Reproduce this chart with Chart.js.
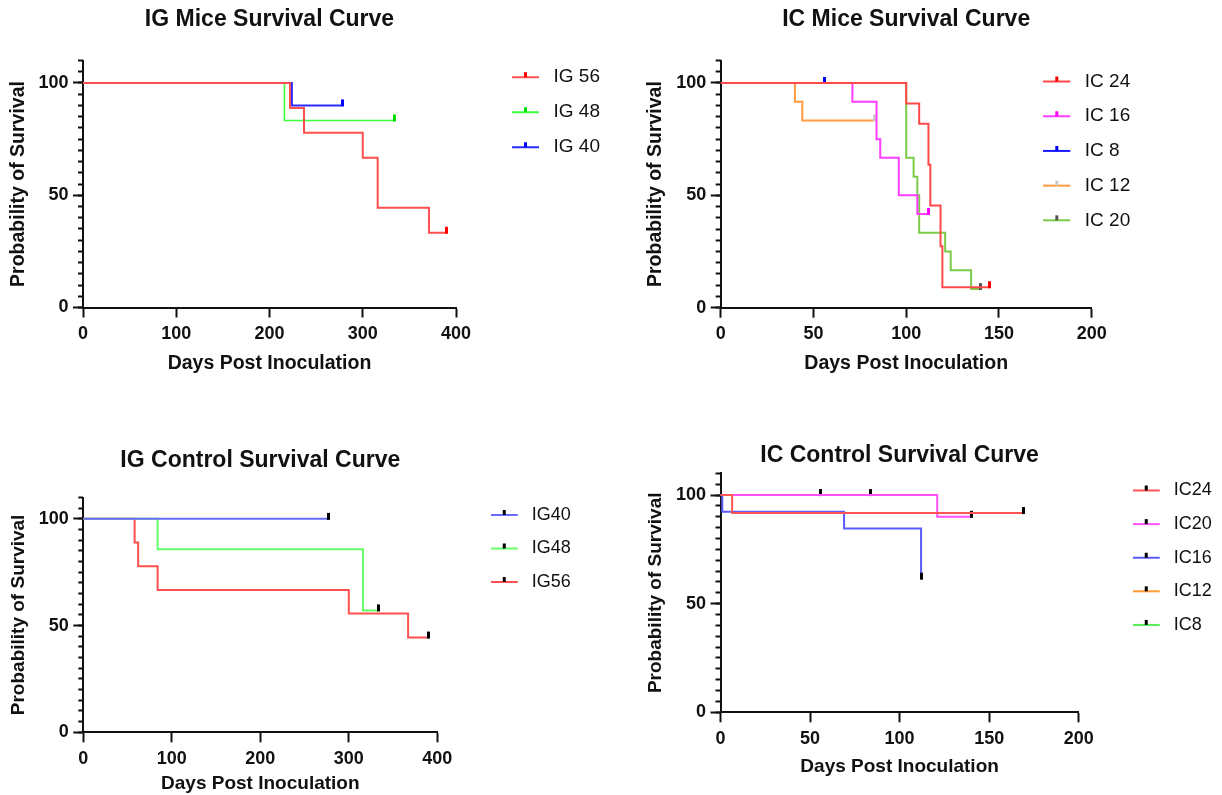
<!DOCTYPE html>
<html><head><meta charset="utf-8">
<script src="https://cdn.jsdelivr.net/npm/chart.js@4.4.1/dist/chart.umd.min.js"></script>
<style>
html,body{margin:0;padding:0;background:#fff;}
body{width:1222px;height:795px;position:relative;overflow:hidden;}
canvas{position:absolute;}
</style></head><body>
<canvas id="c1"></canvas><canvas id="c2"></canvas><canvas id="c3"></canvas><canvas id="c4"></canvas>
<script>
// ================= DATA =================
const yMajorTicks = [0, 50, 100];
const igXTicks = [0, 100, 200, 300, 400];
const icXTicks = [0, 50, 100, 150, 200];
const xAxisTitle = 'Days Post Inoculation';
const yAxisTitle = 'Probability of Survival';

// Panel 1: IG Mice
const igMiceTitle = 'IG Mice Survival Curve';
const igMiceLabels = ['IG 56', 'IG 48', 'IG 40'];
const igMice56Days = [0, 222, 237, 300, 316, 371, 390];
const igMice56Surv = [100, 88.9, 77.8, 66.7, 44.4, 33.3, 33.3];
const igMice48Days = [0, 216, 334];
const igMice48Surv = [100, 83.3, 83.3];
const igMice40Days = [0, 224, 278];
const igMice40Surv = [100, 90, 90];

// Panel 2: IC Mice
const icMiceTitle = 'IC Mice Survival Curve';
const icMiceLabels = ['IC 24', 'IC 16', 'IC 8', 'IC 12', 'IC 20'];
const icMice24Days = [0, 100, 107, 112, 113, 118.5, 119.5, 145];
const icMice24Surv = [100, 90.9, 81.8, 63.6, 45.5, 27.3, 9.1, 9.1];
const icMice16Days = [0, 71, 84, 86, 96, 106, 112];
const icMice16Surv = [100, 91.7, 75, 66.7, 50, 41.7, 41.7];
const icMice8Days = [0, 56];
const icMice8Surv = [100, 100];
const icMice12Days = [0, 40, 44, 83];
const icMice12Surv = [100, 91.7, 83.3, 83.3];
const icMice20Days = [0, 100, 104, 106, 107, 121, 124, 135, 140];
const icMice20Surv = [100, 66.7, 58.3, 50, 33.3, 25, 16.7, 8.3, 8.3];

// Panel 3: IG Control
const igCtrlTitle = 'IG Control Survival Curve';
const igCtrlLabels = ['IG40', 'IG48', 'IG56'];
const igCtrl40Days = [0, 277];
const igCtrl40Surv = [100, 100];
const igCtrl48Days = [0, 84, 316, 334];
const igCtrl48Surv = [100, 85.7, 57.1, 57.1];
const igCtrl56Days = [0, 58, 62, 84, 300, 367, 390];
const igCtrl56Surv = [100, 88.9, 77.8, 66.7, 55.6, 44.4, 44.4];

// Panel 4: IC Control
const icCtrlTitle = 'IC Control Survival Curve';
const icCtrlLabels = ['IC24', 'IC20', 'IC16', 'IC12', 'IC8'];
const icCtrl24Days = [0, 6.5, 169];
const icCtrl24Surv = [100, 91.7, 91.7];
const icCtrl20Days = [0, 121, 140];
const icCtrl20Surv = [100, 90, 90];
const icCtrl16Days = [0, 1, 69, 112];
const icCtrl16Surv = [100, 92.3, 84.6, 61.5];
const icCtrl12Days = [0, 84];
const icCtrl12Surv = [100, 100];
const icCtrl8Days = [0, 56];
const icCtrl8Surv = [100, 100];

// ================= RENDERING =================
const FONT = '"Liberation Sans", Arial, Helvetica, sans-serif';
const TXT = '#111';
Chart.defaults.font.family = FONT;

function makeIcon(color, tickColor) {
  const c = document.createElement('canvas');
  c.width = 32; c.height = 16;
  const g = c.getContext('2d');
  g.fillStyle = color; g.fillRect(0, 7, 27, 2);
  g.fillStyle = tickColor; g.fillRect(12, 3, 3, 5);
  return c;
}
function makeCensor(color) {
  const c = document.createElement('canvas');
  c.width = 3; c.height = 14;
  const g = c.getContext('2d');
  g.fillStyle = color; g.fillRect(0, 1, 3, 7);
  return c;
}

const placer = {
  id: 'placer',
  afterLayout(chart, args, opts) {
    const lg = chart.legend;
    if (lg) {
      const h = lg.height;
      lg.left = opts.lx; lg.top = opts.ly; lg.width = 200;
      lg.right = lg.left + 200; lg.bottom = lg.top + h;
    }
    const t = chart.titleBlock;
    if (t) { t.left = chart.chartArea.left; t.right = chart.chartArea.right; t.width = t.right - t.left; }
  }
};

function panel(id, P) {
  const box = P.box;
  const canvas = document.getElementById(id);
  canvas.width = box.w; canvas.height = box.h;
  canvas.style.left = box.x + 'px'; canvas.style.top = box.y + 'px';
  canvas.style.width = box.w + 'px'; canvas.style.height = box.h + 'px';

  const titleSize = 23, titleLH = titleSize * 1.2;
  const padT = P.titleY - titleLH / 2;
  const titlePB = P.plot.t - padT - titleLH;
  const LW = 40;
  const padR = box.w - P.plot.r - LW;
  const YW = P.plot.l;
  const XH = P.xh;
  const padB = box.h - P.plot.b - XH;
  const axLH = P.axFont * 1.2;
  const xTitlePB = Math.max(0, (P.plot.b + XH) - P.xTitleY - axLH / 2);
  const yTitlePT = P.yTitleX - axLH / 2;
  const lpad = P.legend.spacing - P.legend.font;

  const datasets = P.series.map(s => ({
    label: s.label,
    data: s.days.map((d, i) => ({x: d, y: s.surv[i]})),
    borderColor: s.color, backgroundColor: s.color, borderWidth: s.width || 2,
    stepped: true, fill: false, tension: 0,
    pointStyle: makeCensor(s.tick),
    pointRadius: ctx => (ctx.dataIndex === s.days.length - 1 ? 4 : 0),
    pointHoverRadius: 0, pointHitRadius: 0,
    legendIcon: makeIcon(s.color, s.tick),
    xAxisID: 'x', yAxisID: 'y'
  }));

  return new Chart(canvas, {
    type: 'line',
    data: {datasets},
    plugins: [placer],
    options: {
      responsive: false, animation: false, devicePixelRatio: 1,
      events: [],
      layout: {padding: {left: 0, top: padT, right: padR, bottom: padB}},
      plugins: {
        title: {display: true, text: P.title, color: TXT,
          font: {family: FONT, size: titleSize, weight: 'bold', lineHeight: 1.2},
          padding: {top: 0, bottom: titlePB}},
        legend: {display: true, position: 'right', align: 'start', maxWidth: LW,
          labels: {usePointStyle: true, pointStyleWidth: 32, padding: lpad, color: TXT,
            font: {family: FONT, size: P.legend.font},
            generateLabels: chart => chart.data.datasets.map((ds, i) => ({
              text: ds.label, pointStyle: ds.legendIcon, fillStyle: 'rgba(0,0,0,0)',
              strokeStyle: 'rgba(0,0,0,0)', lineWidth: 0, hidden: false, datasetIndex: i, fontColor: TXT
            }))}},
        tooltip: {enabled: false},
        placer: {lx: P.legend.x - lpad, ly: P.legend.y - P.legend.font / 2 - lpad}
      },
      scales: {
        x: {type: 'linear', position: 'bottom', min: 0, max: P.xTicks[P.xTicks.length - 1],
          afterBuildTicks: sc => { sc.ticks = P.xTicks.map(v => ({value: v})); },
          afterFit: sc => { sc.height = XH; },
          ticks: {color: TXT, font: {family: FONT, size: 18, weight: 'bold'}, padding: 6, maxRotation: 0, autoSkip: false},
          grid: {drawOnChartArea: false, drawTicks: true, tickLength: 10, tickWidth: 2, tickColor: TXT},
          border: {display: true, color: TXT, width: 2},
          title: {display: true, text: xAxisTitle, color: TXT,
            font: {family: FONT, size: P.axFont, weight: 'bold', lineHeight: 1.2},
            padding: {top: 0, bottom: xTitlePB}}},
        y: {type: 'linear', position: 'left', weight: 1, min: 0, max: 110,
          afterBuildTicks: sc => { sc.ticks = yMajorTicks.map(v => ({value: v})); },
          afterFit: sc => { sc.width = YW; },
          ticks: {color: TXT, font: {family: FONT, size: 18, weight: 'bold'}, padding: 4.5, autoSkip: false},
          grid: {drawOnChartArea: false, drawTicks: true, tickLength: 10, tickWidth: 2, tickColor: TXT},
          border: {display: true, color: TXT, width: 2},
          title: {display: true, text: yAxisTitle, color: TXT,
            font: {family: FONT, size: P.axFont, weight: 'bold', lineHeight: 1.2},
            padding: {top: yTitlePT, bottom: 0}}},
        yMinor: {type: 'linear', position: 'left', weight: 0, min: 0, max: 110,
          afterFit: sc => { sc.width = 0; },
          ticks: {display: false, stepSize: 5},
          grid: {drawOnChartArea: false, drawTicks: true, tickLength: 5, tickWidth: 2, tickColor: TXT},
          border: {display: false}}
      }
    }
  });
}

panel('c1', {
  box: {x: 0, y: 0, w: 611, h: 395},
  plot: {l: 83, r: 456, t: 60.5, b: 307.5},
  title: igMiceTitle, titleY: 19.5, xTitleY: 363.5, xh: 70, yTitleX: 18.8, axFont: 19.5,
  xTicks: igXTicks,
  legend: {x: 512, y: 77.2, spacing: 35, font: 19},
  series: [
    {label: igMiceLabels[0], days: igMice56Days, surv: igMice56Surv, color: '#ff5050', tick: '#ff0000'},
    {label: igMiceLabels[1], days: igMice48Days, surv: igMice48Surv, color: '#3cff3c', tick: '#00dd00', width: 1.6},
    {label: igMiceLabels[2], days: igMice40Days, surv: igMice40Surv, color: '#2a2aff', tick: '#0000ff'}
  ]
});

panel('c2', {
  box: {x: 611, y: 0, w: 611, h: 395},
  plot: {l: 109.7, r: 480.7, t: 60.5, b: 307.7},
  title: icMiceTitle, titleY: 19.5, xTitleY: 363.5, xh: 70, yTitleX: 45, axFont: 19.5,
  xTicks: icXTicks,
  legend: {x: 432.3, y: 81.5, spacing: 34.7, font: 19},
  series: [
    {label: icMiceLabels[0], days: icMice24Days, surv: icMice24Surv, color: '#ff4848', tick: '#ff0000'},
    {label: icMiceLabels[1], days: icMice16Days, surv: icMice16Surv, color: '#ff3cff', tick: '#ff00ff'},
    {label: icMiceLabels[2], days: icMice8Days, surv: icMice8Surv, color: '#1a1aff', tick: '#0000ff'},
    {label: icMiceLabels[3], days: icMice12Days, surv: icMice12Surv, color: '#ff9a40', tick: '#cccccc'},
    {label: icMiceLabels[4], days: icMice20Days, surv: icMice20Surv, color: '#7acc48', tick: '#555555'}
  ]
});

panel('c3', {
  box: {x: 0, y: 400, w: 611, h: 395},
  plot: {l: 83.3, r: 437.3, t: 97.5, b: 332.3},
  title: igCtrlTitle, titleY: 61, xTitleY: 384.5, xh: 62.7, yTitleX: 18.5, axFont: 19,
  xTicks: igXTicks,
  legend: {x: 490.7, y: 115, spacing: 33.5, font: 18},
  series: [
    {label: igCtrlLabels[0], days: igCtrl40Days, surv: igCtrl40Surv, color: '#6a6aff', tick: '#000000'},
    {label: igCtrlLabels[1], days: igCtrl48Days, surv: igCtrl48Surv, color: '#66ff66', tick: '#000000'},
    {label: igCtrlLabels[2], days: igCtrl56Days, surv: igCtrl56Surv, color: '#ff5050', tick: '#000000'}
  ]
});

panel('c4', {
  box: {x: 611, y: 400, w: 611, h: 395},
  plot: {l: 109.5, r: 467.7, t: 73.3, b: 312.3},
  title: icCtrlTitle, titleY: 56, xTitleY: 367, xh: 70, yTitleX: 45, axFont: 19,
  xTicks: icXTicks,
  legend: {x: 521.7, y: 90.5, spacing: 33.6, font: 18},
  series: [
    {label: icCtrlLabels[0], days: icCtrl24Days, surv: icCtrl24Surv, color: '#ff5555', tick: '#000000'},
    {label: icCtrlLabels[1], days: icCtrl20Days, surv: icCtrl20Surv, color: '#ff50ff', tick: '#000000'},
    {label: icCtrlLabels[2], days: icCtrl16Days, surv: icCtrl16Surv, color: '#5a5aff', tick: '#000000'},
    {label: icCtrlLabels[3], days: icCtrl12Days, surv: icCtrl12Surv, color: '#ff9933', tick: '#000000'},
    {label: icCtrlLabels[4], days: icCtrl8Days, surv: icCtrl8Surv, color: '#55ee55', tick: '#000000'}
  ]
});
</script>
</body></html>
